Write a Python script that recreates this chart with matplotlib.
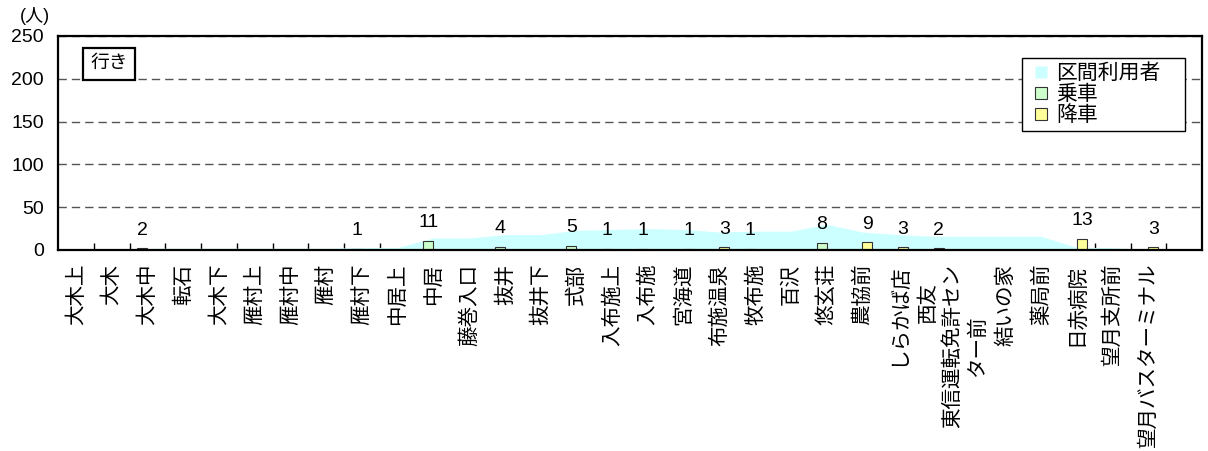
import matplotlib
matplotlib.use("Agg")
import matplotlib.pyplot as plt
from matplotlib.lines import Line2D
from matplotlib.transforms import ScaledTranslation
import numpy as np

plt.rcParams['font.family'] = ['Liberation Sans', 'Noto Sans CJK JP', 'DejaVu Sans']

# bus stops (last slot is an empty category at the right end)
stops = ["大木上", "大木", "大木中", "転石", "大木下", "雁村上", "雁村中", "雁村",
         "雁村下", "中居上", "中居", "藤巻入口", "抜井", "抜井下", "式部", "入布施上",
         "入布施", "宮海道", "布施温泉", "牧布施", "百沢", "悠玄荘", "農協前",
         "しらかば店", "西友", "東信運転免許セン\nター前", "結いの家", "薬局前",
         "日赤病院", "望月支所前", "望月バスターミナル", ""]
boarding = [0, 0, 2, 0, 0, 0, 0, 0, 1, 0, 11, 0, 4, 0, 5, 1,
            1, 0, 0, 1, 0, 8, 0, 0, 0, 0, 0, 0, 0, 0, 0, 0]
alighting = [0, 0, 0, 0, 0, 0, 0, 0, 0, 0, 0, 0, 0, 0, 0, 0,
             0, 1, 3, 0, 0, 0, 9, 3, 2, 0, 0, 0, 13, 0, 3, 0]
onboard = [0, 0, 2, 2, 2, 2, 2, 2, 3, 3, 14, 14, 18, 18, 23, 24,
           25, 24, 21, 22, 22, 30, 21, 18, 16, 16, 16, 16, 3, 3, 0]

c_area = '#CCFFFF'
c_on = '#CCFFCC'
c_off = '#FFFF99'

fig = plt.figure(figsize=(12.08, 4.51), dpi=100)
ax = fig.add_axes([58/1208, 1-250/451, 1144/1208, 214/451])

x = np.arange(len(stops))
xa = np.arange(len(onboard))
ax.fill_between(xa, 0, onboard, color=c_area, lw=0, zorder=1)

w = 0.28
b1 = ax.bar(x - w/2, boarding, w, color=c_on, edgecolor='#333333', lw=0.8, zorder=2)
b2 = ax.bar(x + w/2, alighting, w, color=c_off, edgecolor='#333333', lw=0.8, zorder=2)
ax.bar_label(b1, labels=[str(v) if v else '' for v in boarding], padding=7, fontsize=14)
ax.bar_label(b2, labels=[str(v) if v else '' for v in alighting], padding=7, fontsize=14)

ax.set_xlim(-0.5, len(stops) - 0.5)
ax.set_ylim(0, 250)
ax.set_yticks(np.arange(0, 251, 50))
ax.tick_params(axis='y', length=0, pad=10, labelsize=14)
ax.yaxis.grid(True, linestyle=(0, (6, 3.6)), color='#555555', lw=1)
ax.set_axisbelow(True)

ax.set_xticks(x)
ax.set_xticklabels(stops, rotation=90, fontsize=14.8)
ax.tick_params(axis='x', which='major', length=0, pad=10)
ax.set_xticks(np.arange(0.5, len(stops) - 1, 1), minor=True)
ax.tick_params(axis='x', which='minor', direction='in', length=5, width=1)

for s in ax.spines.values():
    s.set_linewidth(1.6)
    s.set_color('black')

labels = ax.get_xticklabels()
for lab in labels:
    lab.set_multialignment('center')
    lab.set_linespacing(1.35)
labels[24].set_transform(labels[24].get_transform() +
                         ScaledTranslation(-0.06, -0.18, fig.dpi_scale_trans))
labels[25].set_transform(labels[25].get_transform() +
                         ScaledTranslation(-0.05, 0, fig.dpi_scale_trans))

handles = [
    Line2D([], [], marker='s', ls='none', markersize=8.6, markerfacecolor=c_area, markeredgecolor='none'),
    Line2D([], [], marker='s', ls='none', markersize=8.6, markerfacecolor=c_on, markeredgecolor='#333333', markeredgewidth=0.8),
    Line2D([], [], marker='s', ls='none', markersize=8.6, markerfacecolor=c_off, markeredgecolor='#333333', markeredgewidth=0.8),
]
leg = ax.legend(handles, ['区間利用者', '乗車', '降車'], loc='upper left',
                bbox_to_anchor=(0.8427, 0.523, 0.1425, 0.374), mode='expand',
                borderaxespad=0, fontsize=15, frameon=True, fancybox=False,
                edgecolor='black', framealpha=1, borderpad=0.25, labelspacing=0.08,
                handlelength=1.3, handletextpad=0.1)
leg.get_frame().set_linewidth(1)

ax.text(0.028, 0.91, '行き', transform=ax.transAxes, ha='left', va='top', fontsize=13.5,
        bbox=dict(boxstyle='square,pad=0.4', fc='white', ec='black', lw=1.6), zorder=5)

fig.text(20/1208, 1-7/451, '(人)', ha='left', va='top', fontsize=13)

fig.savefig('out.png', dpi=100)
